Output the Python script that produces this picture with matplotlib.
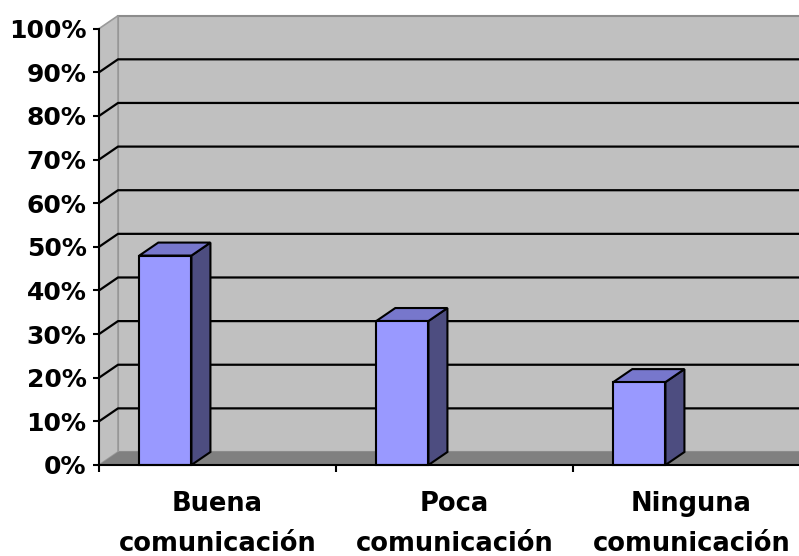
import matplotlib
matplotlib.use("Agg")
import matplotlib.pyplot as plt
from matplotlib.patches import Polygon, Rectangle

categories = ["Buena\ncomunicación", "Poca\ncomunicación", "Ninguna\ncomunicación"]
valores = [0.48, 0.33, 0.19]
ticks_y = [i / 10 for i in range(11)]
etiquetas_y = [f"{i*10}%" for i in range(11)]

W, H = 799, 556
fig = plt.figure(figsize=(W / 100, H / 100), dpi=100)

# front plane of the 3D box (pixels)
x0, x1 = 99, 99 + 237 * 3
y0, y1 = 465, 28.7
ax = fig.add_axes([x0 / W, (H - y0) / H, (x1 - x0) / W, (y0 - y1) / H])
ax.set_xlim(0, 3)
ax.set_ylim(0, 1)
ax.set_facecolor("none")

# depth offset in data units
DX = 19 * 3 / (x1 - x0)
DY = 13 / (y0 - y1)

# walls
ax.add_patch(Rectangle((DX, DY), 3, 1, facecolor="#c0c0c0", edgecolor="#8c8c8c",
                       lw=1.5, clip_on=False, zorder=1))
ax.add_patch(Polygon([(0, 0), (0, 1), (DX, 1 + DY), (DX, DY)], closed=True,
                     facecolor="#c0c0c0", edgecolor="#9a9a9a", lw=1.2, clip_on=False, zorder=1))
# floor
ax.add_patch(Polygon([(0, 0), (3.2, 0), (3.2 + DX, DY), (DX, DY)], closed=True,
                     facecolor="#808080", edgecolor="none", clip_on=False, zorder=2))

# gridlines
for v in ticks_y[1:-1]:
    ax.plot([0, DX, 3.2], [v, v + DY, v + DY], color="black", lw=1.6,
            clip_on=False, zorder=3, solid_capstyle="butt")

# bars
bw = 0.22
for i, v in enumerate(valores):
    xl = i + 0.28 - bw / 2
    xr = xl + bw
    ax.add_patch(Polygon([(xr, 0), (xr + DX, DY), (xr + DX, v + DY), (xr, v)], closed=True,
                         facecolor="#4d4d80", edgecolor="black", lw=1.5, clip_on=False, zorder=5))
    ax.add_patch(Polygon([(xl, v), (xl + DX, v + DY), (xr + DX, v + DY), (xr, v)], closed=True,
                         facecolor="#7777cc", edgecolor="black", lw=1.5, clip_on=False, zorder=5))
    ax.add_patch(Rectangle((xl, 0), bw, v, facecolor="#9999ff", edgecolor="black",
                           lw=1.5, clip_on=False, zorder=6))

for s in ["top", "right"]:
    ax.spines[s].set_visible(False)
for s in ["left", "bottom"]:
    ax.spines[s].set_linewidth(1.5)
    ax.spines[s].set_zorder(7)

ax.set_yticks(ticks_y)
ax.set_yticklabels(etiquetas_y, fontsize=18, fontweight="bold")
ax.tick_params(axis="y", direction="out", length=4, width=1.5, pad=5)

ax.set_xticks([0, 1, 2, 3])
ax.set_xticklabels([])
ax.tick_params(axis="x", which="major", direction="out", length=5, width=1.5)
ax.set_xticks([0.5, 1.5, 2.5], minor=True)
ax.set_xticklabels(categories, minor=True, fontsize=18.5, fontweight="bold", linespacing=1.7)
ax.tick_params(axis="x", which="minor", length=0, pad=19)

fig.savefig("out.png", dpi=100)
